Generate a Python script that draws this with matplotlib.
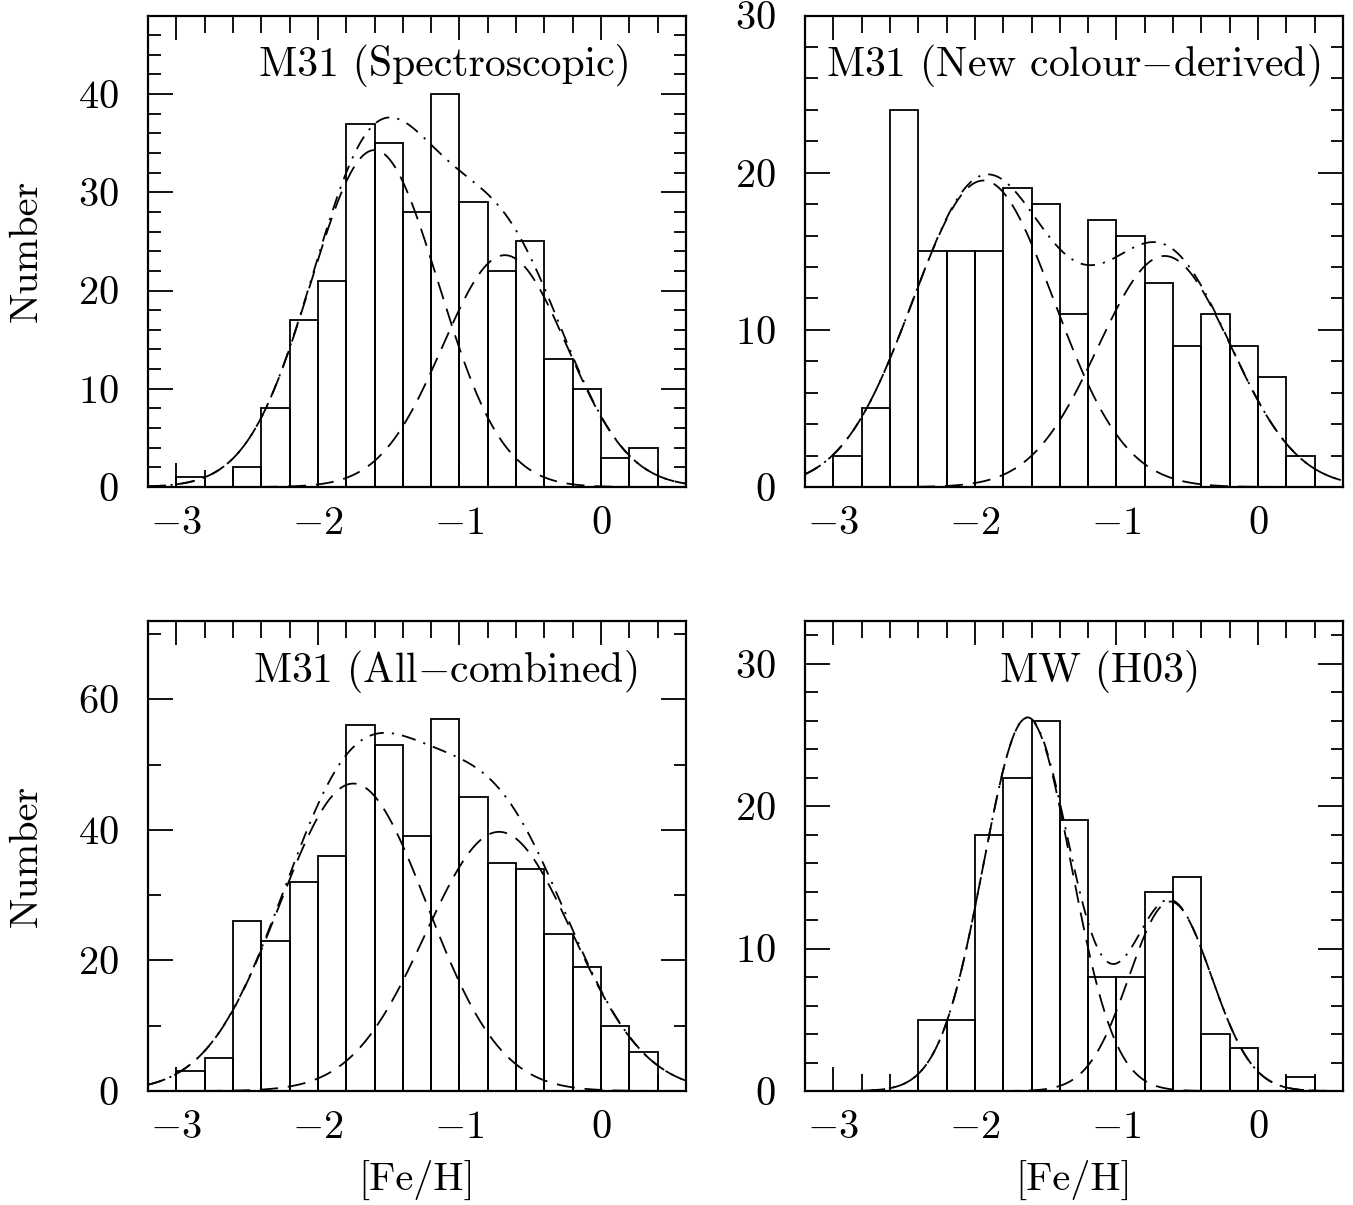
import numpy as np
import matplotlib
matplotlib.use("Agg")
import matplotlib.pyplot as plt
from matplotlib.ticker import MultipleLocator

plt.rcParams['font.family'] = 'cmr10'
plt.rcParams['mathtext.fontset'] = 'cm'
plt.rcParams['axes.formatter.use_mathtext'] = True
plt.rcParams['axes.unicode_minus'] = True

# left edges of the 0.2 dex [Fe/H] bins
bin_left = np.round(np.arange(-3.0, 0.39, 0.2), 1)

# counts per bin
n_spec = [1, 0, 2, 8, 17, 21, 37, 35, 28, 40, 29, 22, 25, 13, 10, 3, 4]
n_colour = [2, 5, 24, 15, 15, 15, 19, 18, 11, 17, 16, 13, 9, 11, 9, 7, 2]
n_all = [3, 5, 26, 23, 32, 36, 56, 53, 39, 57, 45, 35, 34, 24, 19, 10, 6]
n_mw = [0, 0, 0, 5, 5, 18, 22, 26, 19, 8, 8, 14, 15, 4, 3, 0, 1]

# two-gaussian fits: (mean, sigma, peak)
fit_spec = [(-1.60, 0.45, 34.3), (-0.68, 0.44, 23.6)]
fit_colour = [(-1.94, 0.50, 19.5), (-0.66, 0.47, 14.7)]
fit_all = [(-1.75, 0.52, 47.1), (-0.72, 0.52, 39.7)]
fit_mw = [(-1.63, 0.31, 26.2), (-0.62, 0.29, 13.3)]

titles = ['M31 (Spectroscopic)', 'M31 (New colour$-$derived)',
          'M31 (All$-$combined)', 'MW (H03)']
title_x = [0.552, 0.498, 0.552, 0.548]
ytop = [48, 30, 72, 33]
ymaj = [10, 10, 20, 10]
ymin = [2, 2, 10, 2]

counts = [n_spec, n_colour, n_all, n_mw]
fits = [fit_spec, fit_colour, fit_all, fit_mw]

W, H = 1353, 1205
fig = plt.figure(figsize=(W / 100, H / 100), dpi=100)
boxes = [(148, 15.5, 686, 487), (805, 15.5, 1343, 487),
         (148, 621, 686, 1091), (805, 621, 1343, 1091)]

xx = np.linspace(-3.2, 0.6, 500)


def gauss(x, m, s, a):
    return a * np.exp(-(x - m) ** 2 / (2 * s ** 2))


for i in range(4):
    x0, y0, x1, y1 = boxes[i]
    ax = fig.add_axes([x0 / W, 1 - y1 / H, (x1 - x0) / W, (y1 - y0) / H])
    ax.bar(bin_left, counts[i], width=0.2, align='edge', fill=False,
           edgecolor='black', linewidth=1.3)
    g1 = gauss(xx, *fits[i][0])
    g2 = gauss(xx, *fits[i][1])
    ax.plot(xx, g1, color='black', lw=1.3, dashes=(10, 5.5))
    ax.plot(xx, g2, color='black', lw=1.3, dashes=(10, 5.5))
    ax.plot(xx, g1 + g2, color='black', lw=1.3, dashes=(8, 4.5, 1.2, 4.5))

    ax.set_xlim(-3.2, 0.6)
    ax.set_ylim(0, ytop[i])
    ax.xaxis.set_major_locator(MultipleLocator(1))
    ax.xaxis.set_minor_locator(MultipleLocator(0.2))
    ax.yaxis.set_major_locator(MultipleLocator(ymaj[i]))
    ax.yaxis.set_minor_locator(MultipleLocator(ymin[i]))
    ax.tick_params(which='both', direction='in', top=True, right=True,
                   labelsize=29, width=1.3)
    ax.tick_params(axis='x', which='major', length=17, pad=14)
    ax.tick_params(axis='x', which='minor', length=12)
    ax.tick_params(axis='y', which='major', length=18, pad=21)
    ax.tick_params(axis='y', which='minor', length=9)
    for sp in ax.spines.values():
        sp.set_linewidth(1.6)

    ax.text(title_x[i], 0.893, titles[i], transform=ax.transAxes,
            ha='center', va='center', fontsize=30)
    if i % 2 == 0:
        ax.set_ylabel('Number', fontsize=29, labelpad=24)
    if i >= 2:
        ax.set_xlabel('[Fe/H]', fontsize=29, labelpad=10)

fig.savefig('out.png', dpi=100)
